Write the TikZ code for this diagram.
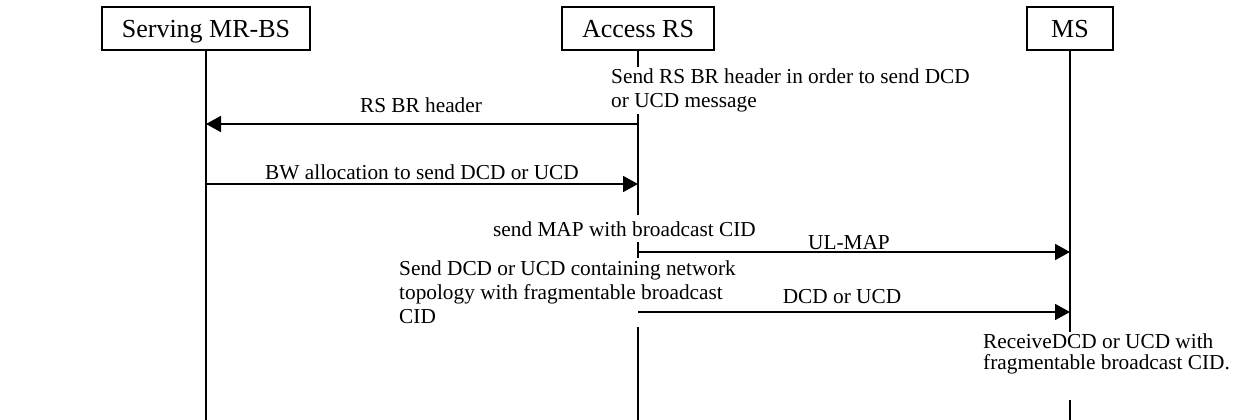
\documentclass[tikz,border=0pt]{standalone}
\usepackage{fontspec}
\setmainfont{Liberation Serif}
\usetikzlibrary{arrows.meta}
\newcommand\boxfnt{\fontsize{26}{30}\selectfont}
\newcommand\lblfnt{\fontsize{21.3}{24}\selectfont}
\newcommand\rcvfnt{\fontsize{21.3}{21.5}\selectfont}
\tikzset{
  entity/.style={draw, line width=1.8pt, fill=white, minimum height=43pt, inner sep=0pt,
    text height=17.2pt, text depth=0pt, font=\boxfnt},
  lifeline/.style={line width=1.8pt},
  msg/.style={line width=1.8pt, -{Triangle[length=15pt,width=16pt]}},
  msglabel/.style={anchor=base, inner sep=0pt, font=\lblfnt},
  note/.style={anchor=north west, fill=white, inner sep=2pt, align=left, font=\lblfnt},
}
\begin{document}
\begin{tikzpicture}[x=1pt,y=1pt]
\useasboundingbox (0,0) rectangle (1239,-420);
% entities
\node[entity, minimum width=208pt] (srv) at (206,-28.5) {Serving MR-BS};
\node[entity, minimum width=152pt] (acc) at (638,-28.5) {Access RS};
\node[entity, minimum width=86pt] (ms) at (1070,-28.5) {MS};
% lifeline ends
\coordinate (srvEnd) at (206,-420);
\coordinate (accEnd) at (638,-420);
\coordinate (msEnd) at (1070,-420);
\draw[lifeline] (srv.south) -- (srvEnd);
\draw[lifeline] (acc.south) -- (accEnd);
\draw[lifeline] (ms.south) -- (msEnd);
% notes (cover lifelines)
\node[note] (n1) at (609,-66.5) {Send RS BR header in order to send DCD\\or UCD message};
\node[msglabel, fill=white, inner sep=6pt] (n2) at (624.5,-236) {send MAP with broadcast CID};
\node[note, inner ysep=3pt] (n3) at (397,-257.5) {Send DCD or UCD containing network\\topology with fragmentable broadcast\\CID};
\node[note, font=\rcvfnt] (n4) at (981,-331.5) {ReceiveDCD or UCD with\\fragmentable broadcast CID.\\\strut};
% message endpoints
\coordinate (a1) at (638,-124);  \coordinate (s1) at (206,-124);
\coordinate (s2) at (206,-184);  \coordinate (a2) at (638,-184);
\coordinate (a3) at (638,-252);  \coordinate (m3) at (1070,-252);
\coordinate (a4) at (638,-312);  \coordinate (m4) at (1070,-312);
% messages
\draw[msg] (a1) -- (s1);
\draw[msg] (s2) -- (a2);
\draw[msg] (a3) -- (m3);
\draw[msg] (a4) -- (m4);
% message labels
\node[msglabel] (l1) at (421,-112) {RS BR header};
\node[msglabel] (l2) at (422,-179) {BW allocation to send DCD or UCD};
\node[msglabel] (l3) at (849,-249) {UL-MAP};
\node[msglabel] (l4) at (842,-303) {DCD or UCD};
\end{tikzpicture}
\end{document}
